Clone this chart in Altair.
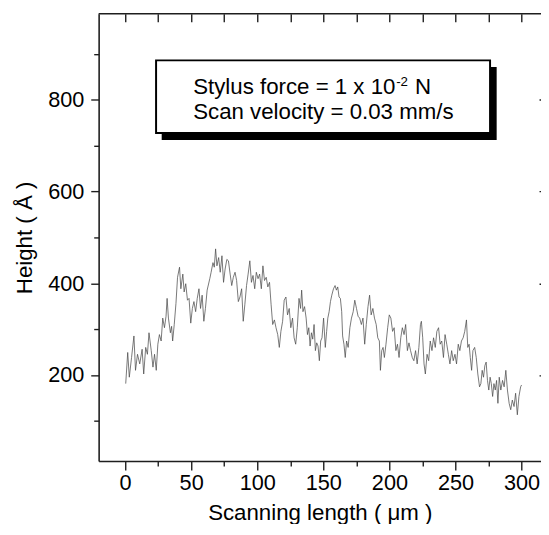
import altair as alt
import pandas as pd

# ---- data ----
scan_um = [0.5, 2.0, 3.2, 4.9, 6.7, 7.9, 9.4, 11.1, 12.9, 14.1,
           15.6, 16.9, 18.1, 19.8, 21.1, 22.3, 23.6, 24.8, 26.0, 27.3,
           28.5, 29.8, 31.0, 31.8, 32.8, 34.3, 35.2, 36.0, 37.2, 38.5,
           39.7, 41.2, 42.2, 43.7, 44.7, 45.9, 47.2, 48.4, 49.7, 50.9,
           52.1, 53.4, 54.6, 55.9, 57.1, 58.3, 59.6, 60.8, 62.1, 64.1,
           65.1, 66.5, 67.5, 68.5, 69.5, 70.8, 72.0, 73.3, 74.5, 75.7,
           77.0, 78.2, 79.5, 80.7, 81.9, 83.2, 84.4, 85.7, 86.9, 88.2,
           89.4, 90.6, 91.9, 93.1, 94.4, 95.6, 96.8, 98.1, 99.3, 100.6,
           101.8, 103.1, 104.3, 105.5, 106.8, 108.0, 109.3, 110.5, 111.7, 113.0,
           114.2, 115.5, 116.7, 117.9, 119.2, 120.4, 121.7, 122.9, 124.2, 125.4,
           126.7, 127.9,
           129.1, 130.3, 131.6, 132.8, 133.6, 134.6, 135.8, 137.0, 138.0, 139.0,
           140.0, 141.0, 142.0, 143.0, 144.0, 145.0, 146.0, 147.0, 148.0, 149.0,
           150.2, 151.5, 152.5, 153.4, 154.4, 155.4, 156.4, 157.7, 158.9, 159.9,
           160.9, 161.9, 162.9, 163.9, 164.6, 165.6, 166.6, 167.6, 168.8, 170.1,
           171.3, 172.6, 173.8, 175.1, 176.3, 177.5, 178.8, 180.0, 181.3, 182.5,
           183.8, 185.0, 186.2, 187.5, 188.7, 190.0, 191.2, 192.4, 193.2, 194.2,
           195.2, 196.2, 197.4, 198.7, 199.9, 201.1, 202.4, 203.6, 204.9, 206.1,
           207.3, 208.6, 209.8, 211.1, 212.3, 213.6, 214.8, 216.0, 217.3, 218.5,
           219.8, 221.0, 222.3, 223.5, 224.2, 225.2, 226.2, 227.2, 228.5, 229.7,
           230.9, 232.2, 233.4, 234.7, 235.9, 237.2, 238.4, 239.6, 240.9, 242.1,
           243.4, 244.6, 245.8, 247.1, 248.3, 249.6, 250.8, 252.1, 253.3, 254.5,
           255.8, 257.0, 258.3, 259.3, 260.3, 261.2, 262.2, 263.2, 264.5, 265.7,
           266.9, 268.2, 269.2, 270.2, 271.2, 272.2, 273.2, 274.2, 275.2, 276.2,
           277.1, 278.1, 279.1, 280.1, 281.1, 282.1, 283.1, 284.3, 285.6, 286.8,
           288.1, 289.3, 290.6, 291.8, 293.0, 294.3, 295.5, 296.8, 298.0, 299.3,
           300.0]

height_A = [181, 249, 195, 238, 285, 210, 245, 224, 256, 202,
            260, 245, 292, 253, 217, 245, 210, 267, 288, 274,
            324, 303, 328, 367, 324, 292, 306, 274, 310, 356,
            413, 435, 388, 420, 381, 399, 363, 367, 313, 345,
            360, 338, 367, 388, 345, 374, 317, 345, 385, 410,
            424, 445, 435, 475, 438, 456, 424, 460, 402, 431,
            452, 449, 420, 395, 413, 424, 406, 360, 370, 388,
            317, 353, 395, 420, 449, 402, 417, 388, 424, 410,
            420, 388, 438, 406, 413, 392, 402, 353, 310, 320,
            303, 288, 260, 295, 317, 363, 370, 331, 345, 303,
            324, 281,
            267, 303, 367, 345, 385, 338, 349, 324, 288, 303,
            263, 292, 278, 310, 253, 270, 263, 231, 274, 281,
            324, 260, 295, 324, 338, 360, 374, 388, 395, 385,
            392, 370, 367, 338, 285, 267, 238, 274, 260, 303,
            324, 338, 363, 345, 328, 324, 310, 324, 267, 310,
            349, 374, 331, 345, 324, 310, 281, 274, 210, 253,
            260, 238, 267, 303, 331, 324, 295, 303, 253, 267,
            238, 281, 303, 288, 310, 253, 270, 253, 238, 231,
            253, 224, 260, 310, 317, 281, 224, 202, 245, 231,
            274, 253, 281, 260, 295, 303, 267, 274, 238, 288,
            267, 245, 224, 253, 231, 245, 224, 267, 253, 274,
            281, 295, 320, 260, 267, 238, 210, 253, 260, 238,
            202, 174, 181, 210, 195, 220, 228, 188, 167, 195,
            181, 153, 181, 167, 188, 138, 195, 167, 188, 174,
            210, 167, 138, 124, 145, 131, 160, 113, 153, 174,
            178]

x_major = [0, 50, 100, 150, 200, 250, 300]
x_minor = [25, 75, 125, 175, 225, 275]
x_top = [0, 25, 50, 75, 100, 125, 150, 175, 200, 225, 250, 275, 300]
y_major = [200, 400, 600, 800]
y_minor = [100, 300, 500, 700, 900]

note_line1 = "Stylus force = 1 x 10"
note_sup = "-2"
note_unit = "N"
note_line2 = "Scan velocity = 0.03 mm/s"

X_DOMAIN = [-20, 314.7]
Y_DOMAIN = [12, 988]
W, H = 449, 454
FONT = "Liberation Sans"
INK = "#1e1e1e"

df = pd.DataFrame({"x": scan_um, "h": height_A})
one = pd.DataFrame({"k": [0]})

xs = alt.Scale(domain=X_DOMAIN, nice=False, zero=False)
ys = alt.Scale(domain=Y_DOMAIN, nice=False, zero=False)

trace = alt.Chart(df).mark_line(color="#4a4a4a", strokeWidth=0.75).encode(
    x=alt.X("x:Q", scale=xs,
            axis=alt.Axis(orient="bottom", values=x_major, tickSize=9, labelPadding=3,
                          title="Scanning length ( μm )", titlePadding=8)),
    y=alt.Y("h:Q", scale=ys,
            axis=alt.Axis(orient="left", values=y_major, tickSize=8, labelPadding=7,
                          title="Height ( Å )", titlePadding=11)),
)

minor = alt.Chart(df).mark_point(opacity=0).encode(
    x=alt.X("x:Q", scale=xs,
            axis=alt.Axis(orient="bottom", values=x_minor, tickSize=5, labels=False,
                          domain=False, title=None)),
    y=alt.Y("h:Q", scale=ys,
            axis=alt.Axis(orient="left", values=y_minor, tickSize=5, labels=False,
                          domain=False, title=None)),
)

inner = alt.Chart(df).mark_point(opacity=0).encode(
    x=alt.X("x:Q", scale=xs,
            axis=alt.Axis(orient="top", values=x_top, tickSize=8, offset=-8, labels=False,
                          domain=False, title=None)),
    y=alt.Y("h:Q", scale=ys,
            axis=alt.Axis(orient="right", values=y_major, tickSize=2, offset=-2, labels=False,
                          domain=False, title=None)),
)

top_border = alt.Chart(one).mark_rule(color=INK, strokeWidth=1.6).encode(
    x=alt.value(0), x2=alt.value(W), y=alt.value(0)
)

shadow = alt.Chart(one).mark_rect(color="black").encode(
    x=alt.value(64), x2=alt.value(404), y=alt.value(54), y2=alt.value(128)
)
box = alt.Chart(one).mark_rect(fill="white", stroke="black", strokeWidth=2).encode(
    x=alt.value(58.3), x2=alt.value(397.3), y=alt.value(47.3), y2=alt.value(121)
)

def label(txt, x, y, size):
    return alt.Chart(one).mark_text(
        text=txt, align="left", baseline="alphabetic", font=FONT, fontSize=size, color="black"
    ).encode(x=alt.value(x), y=alt.value(y))

t1 = label(note_line1, 96, 81.7, 22.6)
t_sup = label(note_sup, 302, 73.5, 13.5)
t_n = label(note_unit, 321, 81.7, 22.6)
t2 = label(note_line2, 96, 106.7, 22.6)

chart = alt.layer(
    trace, minor, inner, top_border, shadow, box, t1, t_sup, t_n, t2
).resolve_axis(
    x="independent", y="independent"
).properties(
    width=W, height=H,
    autosize=alt.AutoSizeParams(type="none"),
    padding={"left": 92, "top": 2, "right": 0, "bottom": 60},
).configure_axis(
    grid=False, labelFont=FONT, titleFont=FONT, labelFontSize=22, titleFontSize=22.6,
    labelColor="black", titleColor="black", titleFontWeight="normal",
    domainColor=INK, tickColor=INK, domainWidth=1.6, tickWidth=1.4,
).configure_view(strokeWidth=0)

chart.save("out.html", embed_options={"renderer": "svg", "actions": False})
